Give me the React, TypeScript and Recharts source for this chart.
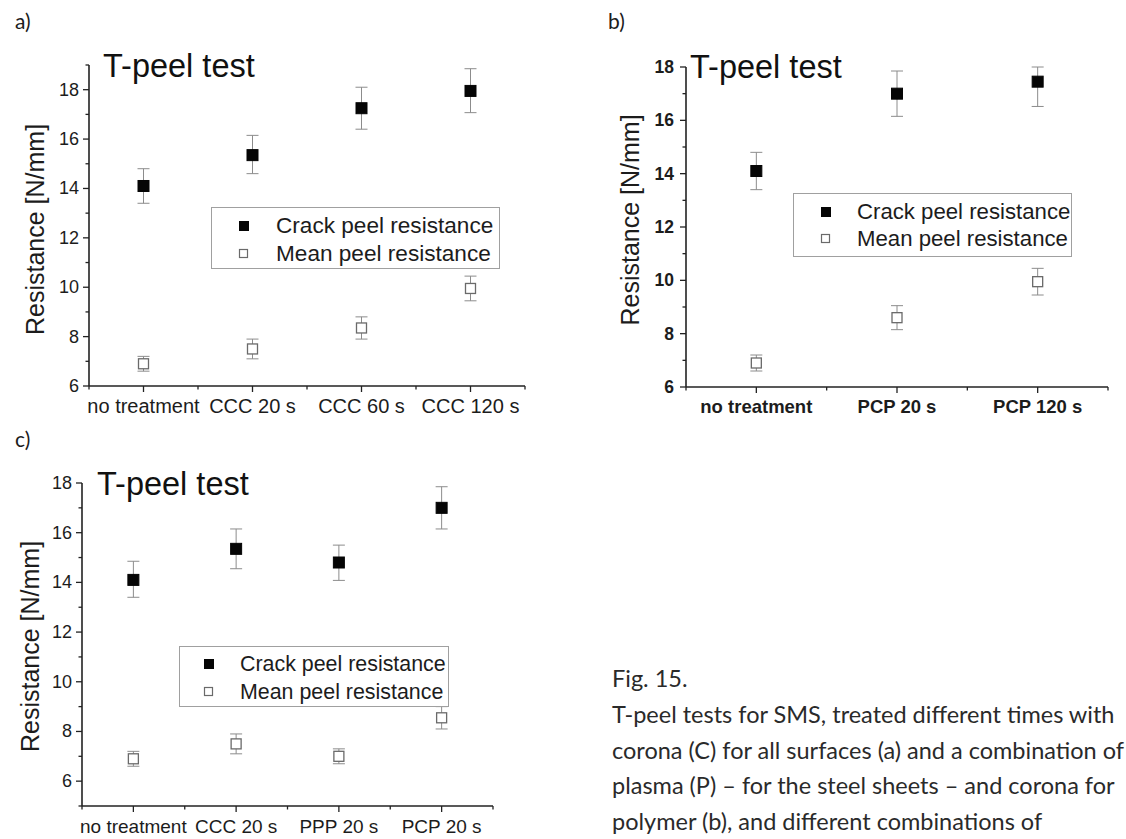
import React from 'react';
import { ScatterChart, Scatter, XAxis, YAxis, ErrorBar, Legend, Label } from 'recharts';

// ---------- data ----------
const catsA = ['no treatment', 'CCC 20 s', 'CCC 60 s', 'CCC 120 s'];
const crackA = [14.1, 15.35, 17.25, 17.95];
const crackErrLoA = [0.7, 0.75, 0.85, 0.88];
const crackErrHiA = [0.7, 0.8, 0.85, 0.9];
const meanA = [6.9, 7.5, 8.35, 9.95];
const meanErrA = [0.3, 0.4, 0.45, 0.5];
const yTicksA = [6, 7, 8, 9, 10, 11, 12, 13, 14, 15, 16, 17, 18, 19];

const catsB = ['no treatment', 'PCP 20 s', 'PCP 120 s'];
const crackB = [14.1, 17.0, 17.45];
const crackErrLoB = [0.7, 0.85, 0.93];
const crackErrHiB = [0.7, 0.85, 0.55];
const meanB = [6.9, 8.6, 9.95];
const meanErrB = [0.3, 0.45, 0.5];
const yTicksB = [6, 7, 8, 9, 10, 11, 12, 13, 14, 15, 16, 17, 18];

const catsC = ['no treatment', 'CCC 20 s', 'PPP 20 s', 'PCP 20 s'];
const crackC = [14.1, 15.35, 14.8, 17.0];
const crackErrLoC = [0.7, 0.8, 0.72, 0.85];
const crackErrHiC = [0.75, 0.8, 0.7, 0.85];
const meanC = [6.9, 7.5, 7.0, 8.55];
const meanErrC = [0.3, 0.4, 0.3, 0.45];
const yTicksC = [5, 6, 7, 8, 9, 10, 11, 12, 13, 14, 15, 16, 17, 18];

const legendLabels = ['Crack peel resistance', 'Mean peel resistance'];
const titleText = 'T-peel test';
const yLabelText = 'Resistance [N/mm]';
const panelLetters = ['a)', 'b)', 'c)'];
const captionLines = [
  'Fig. 15.',
  'T-peel tests for SMS, treated different times with',
  'corona (C) for all surfaces (a) and a combination of',
  'plasma (P) \u2013 for the steel sheets \u2013 and corona for',
  'polymer (b), and different combinations of',
];

const FONT = '"Liberation Sans", Arial, Helvetica, sans-serif';
const CAPFONT = 'Lato, "Open Sans", sans-serif';
const INK = '#1c1c1c';

const filledSquare = (props: any) => {
  const { cx, cy } = props;
  if (cx == null || cy == null) return <g />;
  return <rect x={cx - 5.5} y={cy - 5.5} width={11} height={11} fill="#050505" stroke="#050505" strokeWidth={1} />;
};
const hollowSquare = (props: any) => {
  const { cx, cy } = props;
  if (cx == null || cy == null) return <g />;
  return <rect x={cx - 5} y={cy - 5} width={10} height={10} fill="#ffffff" stroke="#6a6a6a" strokeWidth={1.3} />;
};

type PanelProps = {
  cats: string[];
  crack: number[];
  crackLo: number[];
  crackHi: number[];
  mean: number[];
  meanErr: number[];
  yTicks: number[];
  yDomain: [number, number];
  left: number;
  top: number;
  width: number;
  height: number;
  plot: { l: number; r: number; t: number; b: number };
  xFont: number;
  xDy: number;
  yFont: number;
  yGap: number;
  tickWeight: string;
  yLabelDx: number;
  yLabelDy: number;
  legend: { x: number; y: number; w: number; h: number; rows: number[]; mx: number; tx: number; fs: number };
};

function Panel(p: PanelProps) {
  const YW = 60;
  const XH = 30;
  const n = p.cats.length;
  const crackData = p.cats.map((c, i) => ({ name: c, x: i, y: p.crack[i], err: [p.crackLo[i], p.crackHi[i]] }));
  const meanData = p.cats.map((c, i) => ({ name: c, x: i, y: p.mean[i], err: p.meanErr[i] }));
  const xTicks: number[] = [];
  for (let k = -1; k <= 2 * n - 1; k++) xTicks.push(k / 2);

  const axisX = p.plot.l;
  const axisY = p.plot.b;

  const xTick = (props: any) => {
    const { x, payload } = props;
    const v = payload.value as number;
    const idx = Math.round(v);
    const major = Math.abs(v - idx) < 1e-6;
    return (
      <g>
        <line x1={x} x2={x} y1={axisY} y2={axisY + (major ? 6 : 3.5)} stroke="#222" strokeWidth={1.3} />
        {major && p.cats[idx] != null && (
          <text x={x} y={axisY + p.xDy} textAnchor="middle" fontSize={p.xFont} fontWeight={p.tickWeight} fontFamily={FONT} fill={INK}>
            {p.cats[idx]}
          </text>
        )}
      </g>
    );
  };

  const yTick = (props: any) => {
    const { y, payload } = props;
    const v = payload.value as number;
    const major = v % 2 === 0;
    return (
      <g>
        <line x1={axisX} x2={axisX - (major ? 6 : 3.5)} y1={y} y2={y} stroke="#222" strokeWidth={1.3} />
        {major && (
          <text x={axisX - p.yGap} y={y} textAnchor="end" dominantBaseline="central" fontSize={p.yFont} fontWeight={p.tickWeight} fontFamily={FONT} fill={INK}>
            {v}
          </text>
        )}
      </g>
    );
  };

  const lg = p.legend;
  const legendContent = () => (
    <div
      style={{
        position: 'relative',
        width: lg.w,
        height: lg.h,
        border: '1px solid #a0a0a0',
        boxSizing: 'border-box',
        fontFamily: FONT,
        fontSize: lg.fs,
        color: INK,
      }}
    >
      {legendLabels.map((lab, i) => (
        <div key={lab} style={{ position: 'absolute', left: 0, top: lg.rows[i] - 15, height: 30, width: '100%' }}>
          <svg width={12} height={12} style={{ position: 'absolute', left: lg.mx - 6, top: 9 }}>
            {i === 0 ? (
              <rect x={1} y={1} width={10} height={10} fill="#050505" />
            ) : (
              <rect x={1.5} y={1.5} width={8} height={8} fill="#fff" stroke="#6a6a6a" strokeWidth={1.2} />
            )}
          </svg>
          <span style={{ position: 'absolute', left: lg.tx, top: 0, lineHeight: '30px', whiteSpace: 'nowrap' }}>{lab}</span>
        </div>
      ))}
    </div>
  );

  const yLabelX = p.plot.l - p.yLabelDx;
  const yLabelY = (p.plot.t + p.plot.b) / 2 + p.yLabelDy;

  return (
    <div style={{ position: 'absolute', left: p.left, top: p.top, width: p.width, height: p.height }}>
      <ScatterChart
        width={p.width}
        height={p.height}
        margin={{ top: p.plot.t, left: p.plot.l - YW, right: p.width - p.plot.r, bottom: p.height - p.plot.b - XH }}
      >
        <XAxis
          type="number"
          dataKey="x"
          domain={[-0.5, n - 0.5]}
          ticks={xTicks}
          interval={0}
          height={XH}
          allowDecimals
          axisLine={{ stroke: '#222', strokeWidth: 1.6 }}
          tickLine={false}
          tick={xTick}
        />
        <YAxis
          type="number"
          dataKey="y"
          domain={p.yDomain}
          ticks={p.yTicks}
          interval={0}
          width={YW}
          allowDataOverflow
          axisLine={{ stroke: '#222', strokeWidth: 1.6 }}
          tickLine={false}
          tick={yTick}
        >
          <Label
            content={() => (
              <text
                x={yLabelX}
                y={yLabelY}
                transform={`rotate(-90 ${yLabelX} ${yLabelY})`}
                textAnchor="middle"
                dominantBaseline="central"
                fontSize={25}
                fontFamily={FONT}
                fill={INK}
              >
                {yLabelText}
              </text>
            )}
          />
        </YAxis>
        <Legend
          layout="horizontal"
          verticalAlign="middle"
          align="center"
          wrapperStyle={{ left: lg.x, top: lg.y, width: lg.w, height: lg.h }}
          content={legendContent}
        />
        <Scatter name={legendLabels[1]} data={meanData} shape={hollowSquare} isAnimationActive={false}>
          <ErrorBar dataKey="err" direction="y" width={6} stroke="#8c8c8c" strokeWidth={1} />
        </Scatter>
        <Scatter name={legendLabels[0]} data={crackData} shape={filledSquare} isAnimationActive={false}>
          <ErrorBar dataKey="err" direction="y" width={6} stroke="#8c8c8c" strokeWidth={1} />
        </Scatter>
      </ScatterChart>
    </div>
  );
}

export default function App() {
  return (
    <div style={{ position: 'absolute', left: 0, top: 0, width: 1126, height: 839, background: '#fff', overflow: 'hidden' }}>
      <Panel
        cats={catsA}
        crack={crackA}
        crackLo={crackErrLoA}
        crackHi={crackErrHiA}
        mean={meanA}
        meanErr={meanErrA}
        yTicks={yTicksA}
        yDomain={[6, 19]}
        left={0}
        top={0}
        width={560}
        height={420}
        plot={{ l: 89, r: 525, t: 65, b: 386 }}
        xFont={20}
        xDy={27}
        yFont={18}
        yGap={10}
        tickWeight="normal"
        yLabelDx={54}
        yLabelDy={4}
        legend={{ x: 211, y: 207, w: 289, h: 62, rows: [18, 46], mx: 32, tx: 64, fs: 22.6 }}
      />
      <Panel
        cats={catsB}
        crack={crackB}
        crackLo={crackErrLoB}
        crackHi={crackErrHiB}
        mean={meanB}
        meanErr={meanErrB}
        yTicks={yTicksB}
        yDomain={[6, 18]}
        left={590}
        top={0}
        width={536}
        height={420}
        plot={{ l: 96, r: 518, t: 67, b: 387 }}
        xFont={18.5}
        xDy={26}
        yFont={17.5}
        yGap={12}
        tickWeight="bold"
        yLabelDx={56}
        yLabelDy={-7}
        legend={{ x: 203, y: 193, w: 279, h: 64, rows: [18, 45], mx: 32, tx: 63, fs: 22.2 }}
      />
      <Panel
        cats={catsC}
        crack={crackC}
        crackLo={crackErrLoC}
        crackHi={crackErrHiC}
        mean={meanC}
        meanErr={meanErrC}
        yTicks={yTicksC}
        yDomain={[5, 18]}
        left={0}
        top={420}
        width={560}
        height={419}
        plot={{ l: 82, r: 493, t: 63, b: 386 }}
        xFont={19}
        xDy={27}
        yFont={18}
        yGap={10}
        tickWeight="normal"
        yLabelDx={52}
        yLabelDy={2}
        legend={{ x: 179, y: 226, w: 270, h: 61, rows: [17, 45], mx: 29, tx: 60, fs: 21.4 }}
      />
      <svg width={1126} height={839} style={{ position: 'absolute', left: 0, top: 0, pointerEvents: 'none' }}>
        <text x={15} y={29} fontFamily={CAPFONT} fontSize={21} fill={INK}>{panelLetters[0]}</text>
        <text x={608} y={29} fontFamily={CAPFONT} fontSize={21} fill={INK}>{panelLetters[1]}</text>
        <text x={15} y={447} fontFamily={CAPFONT} fontSize={21} fill={INK}>{panelLetters[2]}</text>
        <text x={103} y={77} fontFamily={FONT} fontSize={32.5} fill="#111">{titleText}</text>
        <text x={690} y={78} fontFamily={FONT} fontSize={32.5} fill="#111">{titleText}</text>
        <text x={97} y={495} fontFamily={FONT} fontSize={32.5} fill="#111">{titleText}</text>
        {captionLines.map((line, i) => (
          <text key={i} x={612} y={687 + i * 35.8} fontFamily={CAPFONT} fontSize={23.5} fill="#2a2a2a" style={{ whiteSpace: 'pre' }}>
            {line}
          </text>
        ))}
      </svg>
    </div>
  );
}
